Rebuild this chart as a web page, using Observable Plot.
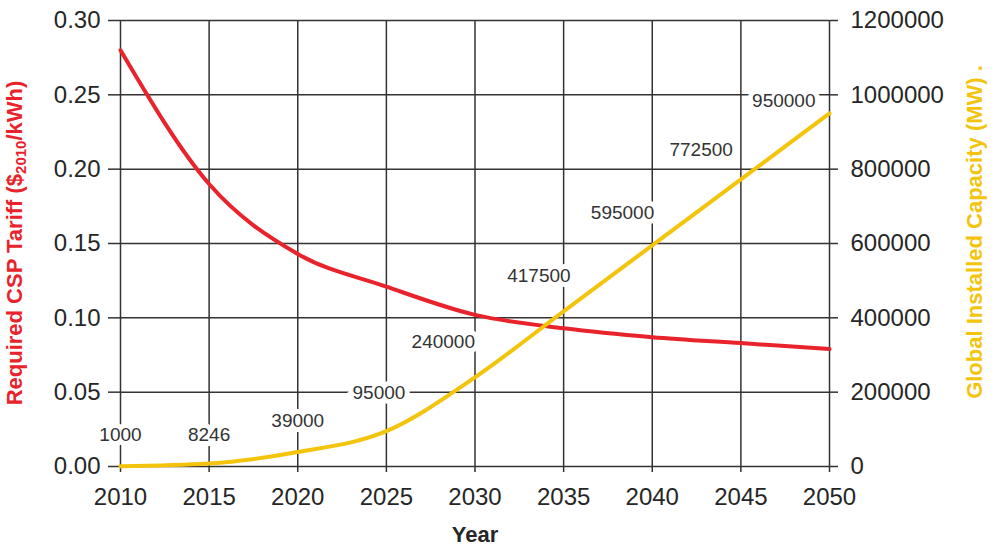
<!DOCTYPE html>
<html>
<head>
<meta charset="utf-8">
<script src="https://cdn.jsdelivr.net/npm/d3@7"></script>
<script src="https://cdn.jsdelivr.net/npm/@observablehq/plot@0.6"></script>
<style>
  html, body { margin: 0; padding: 0; background: #fff; }
  #chart { width: 997px; height: 549px; }
</style>
</head>
<body>
<div id="chart"></div>
<script>
// ---- data ----
const years = [2010, 2015, 2020, 2025, 2030, 2035, 2040, 2045, 2050];
const tariff = [0.280, 0.190, 0.143, 0.121, 0.102, 0.093, 0.087, 0.083, 0.079];
const capacity = [1000, 8246, 39000, 95000, 240000, 417500, 595000, 772500, 950000];
const xTicks = [2010, 2015, 2020, 2025, 2030, 2035, 2040, 2045, 2050];
const leftTicks = [0, 0.05, 0.10, 0.15, 0.20, 0.25, 0.30];
const rightTicks = [0, 200000, 400000, 600000, 800000, 1000000, 1200000];

// right axis maps onto the left scale
const ratio = 1200000 / 0.30;
const tariffRows = years.map((y, i) => ({year: y, v: tariff[i]}));
const capRows = years.map((y, i) => ({year: y, v: capacity[i] / ratio, label: String(capacity[i])}));

// label offsets (style, px)
const labelOffsets = [
  {anchor: "middle", dx: 0, dy: -31},
  {anchor: "middle", dx: 0, dy: -29},
  {anchor: "middle", dx: 0, dy: -31},
  {anchor: "end", dx: 19, dy: -38},
  {anchor: "end", dx: 0, dy: -35},
  {anchor: "end", dx: 7, dy: -35},
  {anchor: "end", dx: 2, dy: -32},
  {anchor: "end", dx: -8, dy: -29},
  {anchor: "end", dx: -14, dy: -13}
];

const gridColor = "#333";
const font = "'Liberation Sans', Arial, Helvetica, sans-serif";

const labelMarks = capRows.map((d, i) => Plot.text([d], {
  x: "year", y: "v", text: "label",
  textAnchor: labelOffsets[i].anchor,
  dx: labelOffsets[i].dx, dy: labelOffsets[i].dy,
  fontSize: 19, fill: "#333",
  stroke: "white", strokeWidth: 10, strokeLinejoin: "miter"
}));

const plot = Plot.plot({
  width: 997,
  height: 549,
  marginLeft: 120,
  marginRight: 168,
  marginTop: 20,
  marginBottom: 83,
  style: {fontFamily: font, color: "#262626", background: "white"},
  x: {domain: [2010, 2050], label: null},
  y: {domain: [0, 0.30], label: null},
  marks: [
    Plot.gridX(xTicks, {stroke: gridColor, strokeOpacity: 1, strokeWidth: 1.5}),
    Plot.gridY(leftTicks, {stroke: gridColor, strokeOpacity: 1, strokeWidth: 1.5}),
    Plot.axisX(xTicks, {tickSize: 6, tickPadding: 15, fontSize: 24, tickFormat: d => String(d), label: null, stroke: gridColor, strokeWidth: 1.5}),
    Plot.axisY(leftTicks, {anchor: "left", tickSize: 12, tickPadding: 8, fontSize: 24, tickFormat: d3.format(".2f"), label: null, stroke: gridColor, strokeWidth: 1.5}),
    Plot.axisY(rightTicks.map(v => v / ratio), {anchor: "right", tickSize: 8, tickPadding: 13, fontSize: 24, tickFormat: d => String(Math.round(d * ratio)), label: null, stroke: gridColor, strokeWidth: 1.5}),
    Plot.line(tariffRows, {x: "year", y: "v", stroke: "#e8232b", strokeWidth: 4, curve: "monotone-x"}),
    ...labelMarks,
    Plot.line(capRows, {x: "year", y: "v", stroke: "#f4c40c", strokeWidth: 4, curve: "monotone-x"})
  ]
});

const svg = d3.select(plot);
// left axis title
const lt = svg.append("text")
  .attr("transform", "translate(22,243) rotate(-90)")
  .attr("text-anchor", "middle")
  .attr("fill", "#e8232b")
  .attr("font-weight", "bold")
  .attr("font-size", 22)
  .attr("font-family", font);
lt.append("tspan").text("Required CSP Tariff ($");
lt.append("tspan").attr("font-size", 15).attr("dy", 4).text("2010");
lt.append("tspan").attr("dy", -4).text("/kWh)");
// right axis title
svg.append("text")
  .attr("transform", "translate(982,232) rotate(-90)")
  .attr("text-anchor", "middle")
  .attr("fill", "#f4c40c")
  .attr("font-weight", "bold")
  .attr("font-size", 22)
  .attr("font-family", font)
  .text("Global Installed Capacity (MW) .");
// x axis title
svg.append("text")
  .attr("x", 475).attr("y", 542)
  .attr("text-anchor", "middle")
  .attr("fill", "#262626")
  .attr("font-weight", "bold")
  .attr("font-size", 22)
  .attr("font-family", font)
  .text("Year");

document.getElementById("chart").appendChild(plot);
</script>
</body>
</html>
